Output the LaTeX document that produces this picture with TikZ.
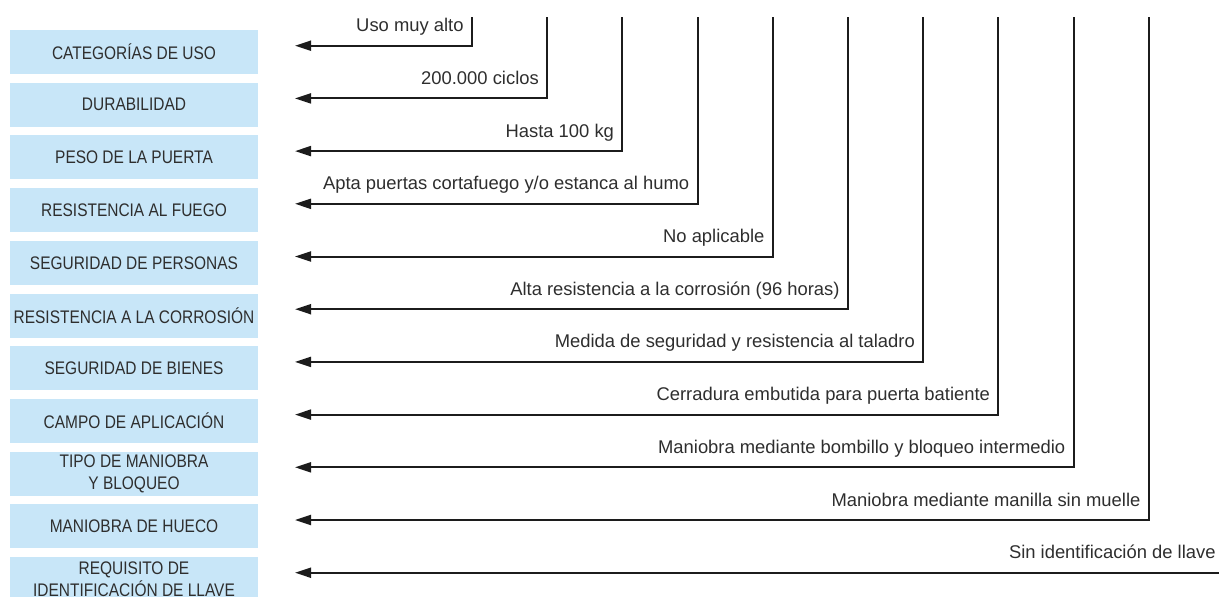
\documentclass[tikz,border=0pt]{standalone}
\usepackage{fontspec}
\setmainfont{Liberation Sans}
\newfontfamily\catfont[FakeStretch=0.85]{Liberation Sans}
\usetikzlibrary{arrows.meta}
\definecolor{catblue}{HTML}{C8E6F8}
\definecolor{txtgray}{HTML}{2E2E2E}
\definecolor{linegray}{HTML}{1C1C1C}
\tikzset{
  catbox/.style={fill=catblue, minimum width=124pt, minimum height=22pt,
    inner sep=0pt, align=center, text=txtgray,
    font=\catfont\fontsize{9.1}{11.2}\selectfont},
  valtext/.style={anchor=base east, inner sep=0pt, text=txtgray,
    font=\fontsize{9.2}{11}\selectfont},
  conn/.style={draw=linegray, line width=1pt, -{Triangle[length=8pt,width=5pt]}}
}
\begin{document}
\begin{tikzpicture}[x=0.5pt,y=-0.5pt]
    \useasboundingbox (0,0) rectangle (1219,596);

    % categories on the left, values coming in from the right
    \foreach \i/\cat/\val in {
        1/{CATEGORÍAS DE USO}/{Uso muy alto},
        2/{DURABILIDAD}/{200.000 ciclos},
        3/{PESO DE LA PUERTA}/{Hasta 100 kg},
        4/{RESISTENCIA AL FUEGO}/{Apta puertas cortafuego y/o estanca al humo},
        5/{SEGURIDAD DE PERSONAS}/{No aplicable},
        6/{RESISTENCIA A LA CORROSIÓN}/{Alta resistencia a la corrosión (96 horas)},
        7/{SEGURIDAD DE BIENES}/{Medida de seguridad y resistencia al taladro},
        8/{CAMPO DE APLICACIÓN}/{Cerradura embutida para puerta batiente},
        9/{TIPO DE MANIOBRA\\ Y BLOQUEO}/{Maniobra mediante bombillo y bloqueo intermedio},
        10/{MANIOBRA DE HUECO}/{Maniobra mediante manilla sin muelle},
        11/{REQUISITO DE\\ IDENTIFICACIÓN DE LLAVE}/{Sin identificación de llave}} {
        \node[catbox] (b\i) at (134, {52+52.7*(\i-1)}) {\cat};

        % top of the vertical, corner and arrow tip
        \coordinate (t\i) at ({472+75.2*(\i-1)}, 17);
        \coordinate (c\i) at ({472+75.2*(\i-1)}, {45.7+52.7*(\i-1)});
        \coordinate (a\i) at (295, {45.7+52.7*(\i-1)});

        \node[valtext] (v\i) at ([xshift=-4pt, yshift=7pt]c\i) {\val};
        \draw[conn] (t\i) |- (a\i);
    }
\end{tikzpicture}
\end{document}
